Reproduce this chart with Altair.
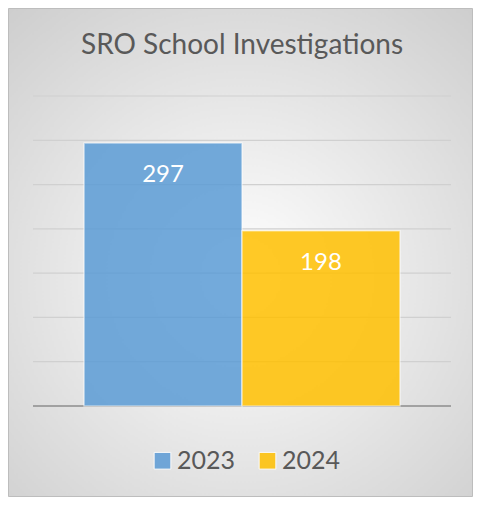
import altair as alt
import pandas as pd

years = ["2023", "2024"]
investigations = [297, 198]
grid_values = [50, 100, 150, 200, 250, 300, 350]
bar_colors = ["#5B9BD5", "#FFC000"]
chart_title = "SRO School Investigations"

FONT = "Lato"
TEXT_GRAY = "#595959"

df = pd.DataFrame({"year": years, "count": investigations})
grid_df = pd.DataFrame({"v": grid_values})
base_df = pd.DataFrame({"v": [0]})

W, H = 418, 310
PAD_L, PAD_T = 25, 88
VIEW_W, VIEW_H = 465, 489

bg = alt.Chart(alt.Data(values=[{}])).mark_rect(
    fill=alt.Gradient(
        gradient="radial",
        x1=0.5, y1=0.55, r1=0,
        x2=0.5, y2=0.55, r2=0.75,
        stops=[alt.GradientStop(offset=0, color="#ffffff"),
               alt.GradientStop(offset=1, color="#cccccc")],
    ),
    stroke="#bdbdbd",
    strokeWidth=1,
).encode(
    x=alt.value(-PAD_L + 0.5), x2=alt.value(VIEW_W - PAD_L - 0.5),
    y=alt.value(-PAD_T + 0.5), y2=alt.value(VIEW_H - PAD_T - 0.5),
)

title = alt.Chart(alt.Data(values=[{"t": chart_title}])).mark_text(
    font=FONT, fontSize=28, color=TEXT_GRAY, align="center", baseline="alphabetic"
).encode(
    x=alt.value(W / 2), y=alt.value(46 - PAD_T), text="t:N"
)

yscale = alt.Scale(domain=[0, 350], nice=False)

grid = alt.Chart(grid_df).mark_rule(color="#d0d0d0", strokeWidth=1.2).encode(
    y=alt.Y("v:Q", scale=yscale, axis=None)
)
baseline = alt.Chart(base_df).mark_rule(color="#8c8c8c", strokeWidth=1.3).encode(
    y=alt.Y("v:Q", scale=yscale, axis=None)
)

xenc = alt.X("year:N", axis=None,
             scale=alt.Scale(paddingInner=0, paddingOuter=0.323))

bars = alt.Chart(df).mark_bar(
    fillOpacity=0.85, stroke="#ffffff", strokeOpacity=0.55, strokeWidth=1.5
).encode(
    x=xenc,
    y=alt.Y("count:Q", scale=yscale, axis=None),
    color=alt.Color(
        "year:N",
        scale=alt.Scale(domain=years, range=bar_colors),
        legend=alt.Legend(
            title=None, orient="none", legendX=117, legendY=352,
            direction="horizontal", symbolType="square", symbolSize=280,
            symbolOpacity=0.85, symbolStrokeColor="#ffffff", symbolStrokeWidth=1,
            labelFont=FONT, labelFontSize=25, labelColor=TEXT_GRAY,
            labelOffset=2, columnPadding=19, padding=0,
        ),
    ),
)

labels = alt.Chart(df).mark_text(
    color="#ffffff", font=FONT, fontSize=24, baseline="alphabetic",
    align="center", dy=39,
).encode(
    x=xenc,
    y=alt.Y("count:Q", scale=yscale, axis=None),
    text=alt.Text("count:Q"),
)

chart = alt.layer(bg, title, grid, baseline, bars, labels).properties(
    width=W, height=H,
    autosize=alt.AutoSizeParams(type="none"),
    padding={"left": PAD_L, "top": PAD_T, "right": VIEW_W - PAD_L - W,
             "bottom": VIEW_H - PAD_T - H},
).configure_view(strokeWidth=0)

chart.save("out.html", embed_options={"renderer": "svg", "actions": False})
